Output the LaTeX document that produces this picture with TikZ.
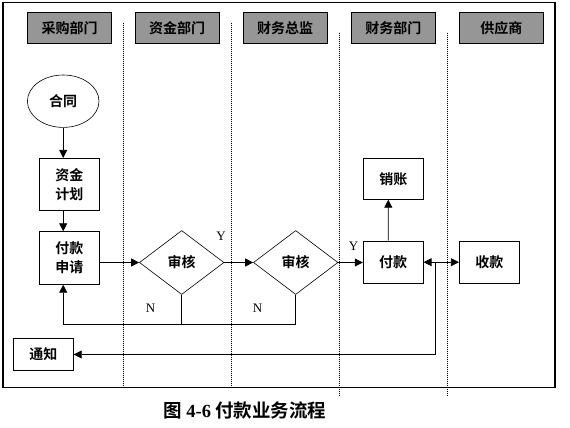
\documentclass[tikz,border=0pt]{standalone}
\usepackage{fontspec}
\setmainfont{Noto Sans CJK SC}[BoldFont={Noto Sans CJK SC Bold}]
\newfontfamily\latf{Liberation Serif}
\usetikzlibrary{arrows.meta,shapes.geometric,calc}
\definecolor{hdrgray}{RGB}{150,150,150}
\begin{document}
\begin{tikzpicture}[x=1pt,y=-1pt,
  every node/.style={inner sep=0pt, text=black, font=\fontsize{14}{19}\selectfont\bfseries},
  hdr/.style={draw=black, line width=1pt, fill=hdrgray, text=black, minimum width=84.3pt, minimum height=31pt},
  box/.style={draw=black, line width=0.8pt, minimum width=60pt, align=center},
  dec/.style={draw, shape=diamond, line width=0.6pt, minimum width=84.5pt, minimum height=64pt},
  lane/.style={line width=0.8pt, dash pattern=on 1pt off 1pt},
  arr/.style={line width=0.8pt, -{Triangle[length=8pt,width=8pt]}},
  darr/.style={line width=0.8pt, {Triangle[length=8pt,width=8pt]}-{Triangle[length=8pt,width=8pt]}},
  con/.style={line width=0.8pt},
  yn/.style={font=\latf\fontsize{13}{13}\selectfont}
]
\useasboundingbox (0,0) rectangle (570,428);
% frame
\draw[line width=1.2pt] (3,2.5) rectangle (555,387.3);
% lanes
\draw[lane] (123.3,22.7) -- (123.3,387.3);
\draw[lane] (231.5,22.7) -- (231.5,387.3);
\draw[lane] (339.3,32.7) -- (339.3,396.7);
\draw[lane] (447.3,32.7) -- (447.3,396.7);
% headers
\node[hdr] (h1) at (69.5,27.8) {采购部门};
\node[hdr] (h2) at (177.2,27.8) {资金部门};
\node[hdr] (h3) at (285.2,27.8) {财务总监};
\node[hdr] (h4) at (393.3,27.8) {财务部门};
\node[hdr] (h5) at (501.3,27.8) {供应商};
% nodes
\node[draw, ellipse, line width=0.6pt, minimum width=71.6pt, minimum height=52.4pt] (ht) at (63.2,101.2) {合同};
\node[box, minimum height=52.4pt] (zj) at (69.3,184.5) {资金\\计划};
\node[box, minimum height=52.6pt] (sq) at (69.3,258) {付款\\申请};
\node[dec] (d1) at (181.7,262.5) {审核};
\node[dec] (d2) at (295.7,262.5) {审核};
\node[box, minimum height=42.3pt] (fk) at (393.2,262.2) {付款};
\node[box, minimum height=41pt] (xz) at (393.3,178.8) {销账};
\node[box, minimum height=42pt] (sk) at (489.3,262.2) {收款};
\node[box, minimum height=32.4pt] (tz) at (43.3,354.5) {通知};
% connectors
\draw[arr] (ht.south) -- (ht.south |- zj.north);
\draw[arr] (zj.south -| ht.south) -- (sq.north -| ht.south);
\draw[arr] (sq.east |- d1.west) -- (d1.west);
\draw[arr] (d1.east) -- (d2.west);
\draw[arr] (d2.east) -- (d2.east -| fk.west);
\coordinate (fb) at ($(sq.south -| ht.south)+(0,39.7)$);
\draw[arr] (d2.south) |- (fb) -- (sq.south -| ht.south);
\draw[con] (d1.south) -- (d1.south |- fb);
\draw[darr] (fk.east) -- (sk.west);
\coordinate (jn) at ($(fk.east)+(12,0)$);
\draw[arr] (jn) |- (tz.east);
\draw[arr] ([xshift=-5pt]fk.north) -- ([xshift=-5pt]xz.south);
% labels
\node[yn] (y1) at (221,236) {Y};
\node[yn] (y2) at (353.5,246) {Y};
\node[yn] (n1) at (150.5,308) {N};
\node[yn] (n2) at (257.5,308) {N};
% title
\node[font=\fontsize{18.5}{18.5}\selectfont\bfseries] (title) at (245,410) {图 {\latf\bfseries 4-6} 付款业务流程};
\end{tikzpicture}
\end{document}
